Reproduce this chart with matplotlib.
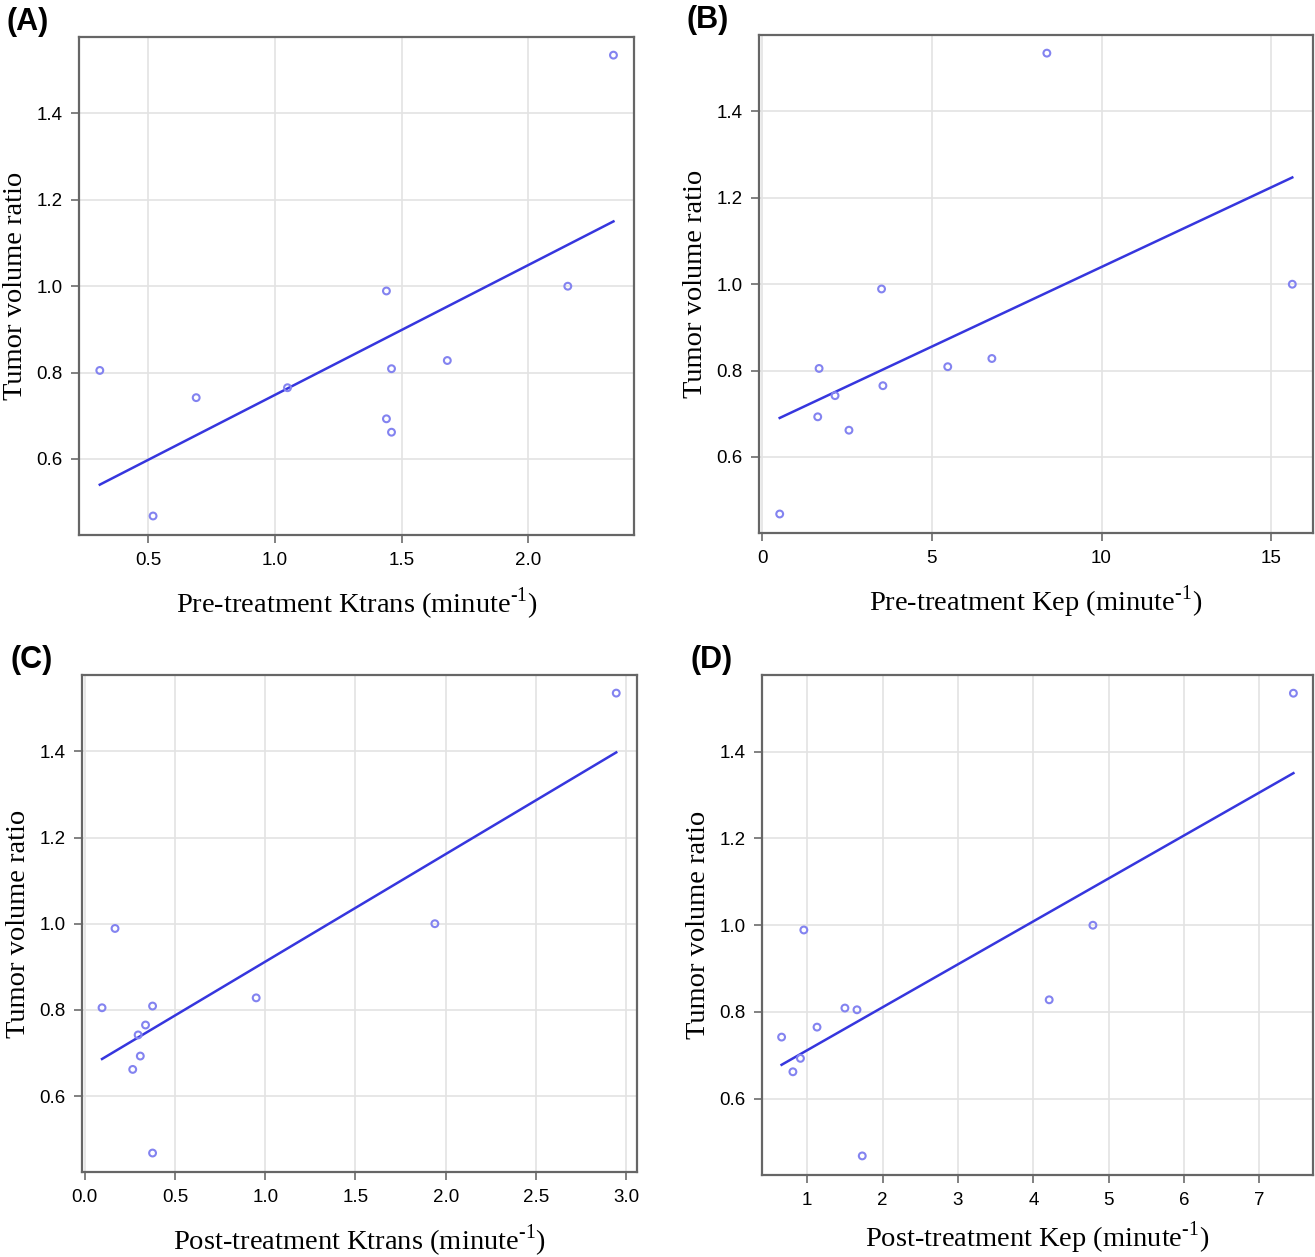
import numpy as np
import matplotlib
matplotlib.use("Agg")
import matplotlib.pyplot as plt

plt.rcParams['font.family'] = ['Liberation Sans', 'DejaVu Sans']
plt.rcParams['mathtext.fontset'] = 'custom'
plt.rcParams['mathtext.rm'] = 'Liberation Serif'

# tumour volume ratio, same patients in every panel
ratio = [0.805, 0.468, 0.742, 0.765, 0.989, 0.809, 0.693, 0.662, 0.828, 1.000, 1.535]

# perfusion values (same patient order as ratio)
pre_ktrans = [0.31, 0.52, 0.69, 1.05, 1.44, 1.46, 1.44, 1.46, 1.68, 2.155, 2.335]
pre_kep = [1.68, 0.52, 2.15, 3.56, 3.52, 5.47, 1.64, 2.56, 6.77, 15.62, 8.39]
post_ktrans = [0.096, 0.376, 0.296, 0.337, 0.168, 0.376, 0.308, 0.266, 0.95, 1.94, 2.945]
post_kep = [1.66, 1.73, 0.66, 1.13, 0.955, 1.50, 0.91, 0.81, 4.21, 4.79, 7.45]

panels = [
    ('(A)', pre_ktrans, 'Pre-treatment Ktrans', [0.5, 1.0, 1.5, 2.0], (0.228, 2.416),
     [79, 634, 37, 535], 12),
    ('(B)', pre_kep, 'Pre-treatment Kep', [0, 5, 10, 15], (-0.09, 16.23),
     [759, 1313, 35, 533], 12),
    ('(C)', post_ktrans, 'Post-treatment Ktrans', [0.0, 0.5, 1.0, 1.5, 2.0, 2.5, 3.0], (-0.015, 3.06),
     [82, 637, 675, 1172], 12),
    ('(D)', post_kep, 'Post-treatment Kep', [1, 2, 3, 4, 5, 6, 7], (0.40, 7.71),
     [762, 1313, 675, 1175], 8),
]
yticks = [0.6, 0.8, 1.0, 1.2, 1.4]

W, H = 1315, 1257
fig = plt.figure(figsize=(W / 100, H / 100), dpi=100)
fig.patch.set_facecolor('white')

for tag, xs, xname, xticks, xlim, (l, r, t, b), xpad in panels:
    ax = fig.add_axes([l / W, 1 - b / H, (r - l) / W, (b - t) / H])
    x = np.array(xs)
    y = np.array(ratio)
    slope, icpt = np.polyfit(x, y, 1)
    xl = np.array([x.min(), x.max()])
    ax.plot(xl, icpt + slope * xl, color='#3636de', lw=1.8, zorder=3)
    ax.scatter(x, y, s=24, facecolors='none', edgecolors='#8383f0', linewidths=1.5, zorder=4)

    ax.set_xlim(*xlim)
    ax.set_ylim(0.424, 1.577)
    ax.set_xticks(xticks)
    ax.set_xticklabels([f'{v:.1f}' if isinstance(v, float) else str(v) for v in xticks])
    ax.set_yticks(yticks)
    ax.set_yticklabels([f'{v:.1f}' for v in yticks])
    ax.grid(True, color='#e3e3e3', lw=1.2, zorder=0)
    ax.set_axisbelow(True)
    for s in ax.spines.values():
        s.set_color('#666666')
        s.set_linewidth(1.6)
    ax.tick_params(direction='out', length=6, width=1.3, color='#777777',
                   labelsize=13.5, labelcolor='black', pad=6)
    ax.set_xlabel(xname + r' (minute$^{\text{-}1}$)', family='Liberation Serif',
                  fontsize=20.5, labelpad=xpad)
    ax.set_ylabel('Tumor volume ratio', family='Liberation Serif', fontsize=20.5, labelpad=6)
    fig.text((l - 72) / W, 1 - (t - 15) / H, tag, fontsize=22, fontweight='bold',
             ha='left', va='center')

fig.savefig('out.png', dpi=100, facecolor='white')
